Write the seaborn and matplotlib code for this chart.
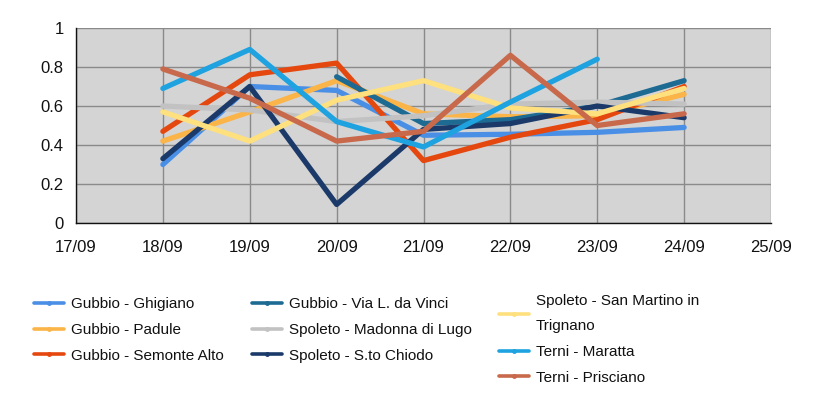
import numpy as np
import pandas as pd
import matplotlib
matplotlib.use("Agg")
import matplotlib.pyplot as plt
from matplotlib.lines import Line2D
import seaborn as sns

# ---- data ----
tick_labels = ["17/09", "18/09", "19/09", "20/09", "21/09", "22/09", "23/09", "24/09", "25/09"]
dates = ["18/09", "19/09", "20/09", "21/09", "22/09", "23/09", "24/09"]

series_names = [
    "Gubbio - Ghigiano",
    "Gubbio - Padule",
    "Gubbio - Semonte Alto",
    "Gubbio - Via L. da Vinci",
    "Spoleto - Madonna di Lugo",
    "Spoleto - S.to Chiodo",
    "Spoleto - San Martino in\nTrignano",
    "Terni - Maratta",
    "Terni - Prisciano",
]

ghigiano = [0.30, 0.70, 0.68, 0.45, 0.455, 0.465, 0.49]
padule = [0.42, 0.57, 0.73, 0.56, 0.545, 0.55, 0.66]
semonte_alto = [0.47, 0.76, 0.82, 0.32, 0.44, 0.53, 0.70]
via_da_vinci = [np.nan, np.nan, 0.75, 0.51, 0.53, 0.60, 0.73]
madonna_di_lugo = [0.60, 0.58, 0.52, 0.55, 0.61, 0.62, 0.61]
sto_chiodo = [0.33, 0.70, 0.095, 0.48, 0.51, 0.60, 0.54]
san_martino = [0.57, 0.42, 0.63, 0.73, 0.59, 0.56, 0.69]
maratta = [0.69, 0.89, 0.52, 0.39, 0.62, 0.84, np.nan]
prisciano = [0.79, 0.64, 0.42, 0.47, 0.86, 0.50, 0.56]

colors = ["#4a8fe6", "#fbb447", "#e5480f", "#1d6a93", "#c2c2c2",
          "#1b3a69", "#ffe07e", "#1ea2e0", "#c8694b"]

values = [ghigiano, padule, semonte_alto, via_da_vinci, madonna_di_lugo,
          sto_chiodo, san_martino, maratta, prisciano]

rows = []
for name, vals in zip(series_names, values):
    for d, v in zip(dates, vals):
        rows.append({"x": tick_labels.index(d), "value": v, "series": name})
df = pd.DataFrame(rows).dropna()

palette = dict(zip(series_names, colors))

# ---- figure ----
sns.set_style("white")
plt.rcParams["font.family"] = ["Liberation Sans", "DejaVu Sans"]

fig = plt.figure(figsize=(8.27, 4.13), dpi=100)
W, H = 827, 413
ax = fig.add_axes([76 / W, 1 - 223 / H, (771 - 76) / W, (223 - 28) / H])
ax.set_facecolor("#d4d4d4")

sns.lineplot(data=df, x="x", y="value", hue="series", hue_order=series_names,
             palette=palette, linewidth=3.8, ax=ax, legend=False, sort=True,
             estimator=None)

ax.set_xlim(0, 8)
ax.set_ylim(0, 1)
ax.set_xticks(range(len(tick_labels)))
ax.set_xticklabels(tick_labels)
ax.set_yticks([0, 0.2, 0.4, 0.6, 0.8, 1])
ax.set_yticklabels(["0", "0.2", "0.4", "0.6", "0.8", "1"])
ax.set_xlabel("")
ax.set_ylabel("")
ax.grid(True, color="#8a8a8a", linewidth=1.0)
ax.set_axisbelow(True)
for s in ["top", "right"]:
    ax.spines[s].set_visible(False)
for s in ["left", "bottom"]:
    ax.spines[s].set_color("#111111")
    ax.spines[s].set_linewidth(1.0)
ax.tick_params(axis="both", which="major", direction="out", length=6,
               width=1, color="#111111", labelsize=12, labelcolor="#111111")
ax.tick_params(axis="x", pad=6)
ax.tick_params(axis="y", pad=3)

handles = [Line2D([0], [0], color=c, lw=2.6, marker="o", markersize=2.5)
           for c in colors]

col_specs = [(0, 3, 34, 297), (3, 6, 252, 297), (6, 9, 499, 294)]
for i0, i1, xl, yt in col_specs:
    leg = fig.legend(handles[i0:i1], series_names[i0:i1], loc="upper left",
                     bbox_to_anchor=(xl / W, 1 - yt / H), frameon=False,
                     fontsize=11, handlelength=1.95, handletextpad=0.45,
                     labelspacing=0.78, borderpad=0, borderaxespad=0)
    for t in leg.get_texts():
        t.set_color("#111111")
        if "\n" in t.get_text():
            t.set_linespacing(2.0)

fig.savefig("out.png", dpi=100)
